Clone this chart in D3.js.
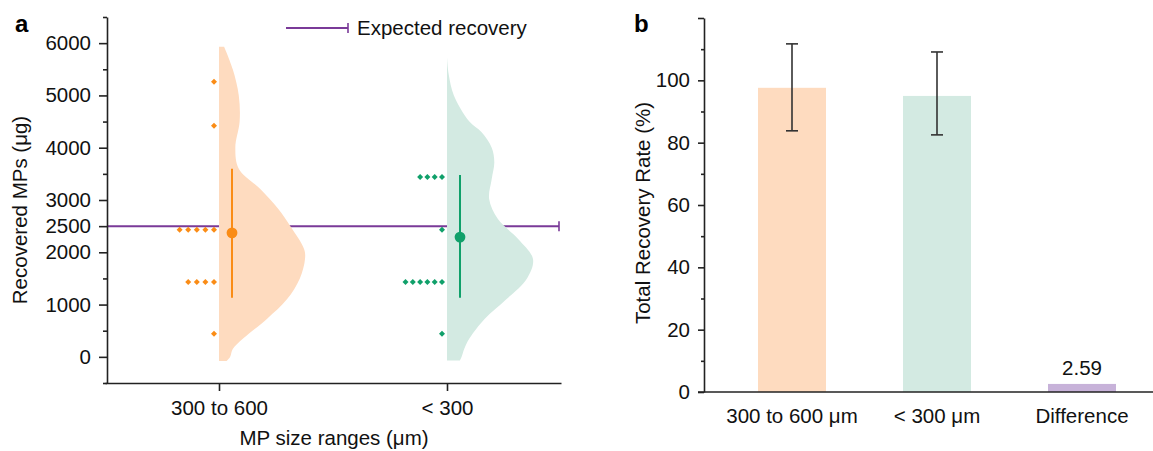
<!DOCTYPE html>
<html>
<head>
<meta charset="utf-8">
<script src="https://cdn.jsdelivr.net/npm/d3@7"></script>
<style>
  body { margin: 0; background: #fff; }
  svg { display: block; font-family: "Liberation Sans", Arial, sans-serif; }
  .axis path, .axis line { stroke: #222; stroke-width: 1.6; }
  .axis text { font-size: 20.5px; fill: #111; }
</style>
</head>
<body>
<div id="chart"></div>
<script>
// Panel a: recovered MPs per size range
const sizeRanges = ["300 to 600", "< 300"];
const orangePoints = [5260, 4420, 2430, 2430, 2430, 2430, 2430, 1430, 1430, 1430, 1430, 440];
const greenPoints = [3440, 3440, 3440, 3440, 2430, 1430, 1430, 1430, 1430, 1430, 1430, 440];
const groupMeans = [2370, 2290];
const groupLow = [1130, 1130];
const groupHigh = [3600, 3480];
const expectedRecovery = 2500;

// half-violin outlines (value, relative density)
const orangeViolinValues = [-80, 0, 150, 350, 730, 1100, 1500, 1870, 2060, 2500, 2830, 3210, 3600, 4000, 4500, 5000, 5500, 5930];
const orangeViolinDensity = [0.09, 0.13, 0.16, 0.28, 0.56, 0.79, 0.94, 1.0, 0.99, 0.83, 0.69, 0.48, 0.23, 0.19, 0.24, 0.23, 0.16, 0.06];
const greenViolinValues = [-70, 0, 150, 350, 730, 1100, 1500, 1870, 2250, 2640, 3020, 3400, 3720, 4000, 4300, 4500, 5000, 5400, 5730];
const greenViolinDensity = [0.15, 0.17, 0.2, 0.26, 0.44, 0.69, 0.93, 1.0, 0.83, 0.59, 0.49, 0.52, 0.55, 0.52, 0.4, 0.26, 0.08, 0.02, 0.0];

const yTicksA = [0, 1000, 2000, 2500, 3000, 4000, 5000, 6000];
const yMinorA = [-500, 500, 1500, 3500, 4500, 5500, 6500];

// Panel b: total recovery rate
const barCategories = ["300 to 600 μm", "< 300 μm", "Difference"];
const recoveryRates = [97.6, 95.0, 2.59];
const rateLow = [83.8, 82.5, null];
const rateHigh = [111.7, 109.1, null];
const yTicksB = [0, 20, 40, 60, 80, 100, 120];
const yMinorB = [10, 30, 50, 70, 90, 110];

const ORANGE_FILL = "#FEDBBF";
const ORANGE = "#FA8C16";
const GREEN_FILL = "#D3EAE2";
const GREEN = "#10A06A";
const PURPLE = "#7A3A98";
const DIFF_FILL = "#C7B2D9";
const FS = "20.5px";

const width = 1153, height = 451;
const svg = d3.select("#chart").append("svg")
    .attr("width", width)
    .attr("height", height);

// ---------- panel a ----------
const ya = d3.scaleLinear().domain([-500, 6500]).range([383, 17]);
const xa = d3.scalePoint().domain(sizeRanges).range([105, 561]).padding(0.5);
const wa = d3.scaleLinear().domain([0, 1]).range([0, 86]);

const ga = svg.append("g");

// expected recovery line (behind violins)
const lineEnd = 559;
ga.append("line")
    .attr("x1", 107).attr("x2", lineEnd)
    .attr("y1", ya(expectedRecovery)).attr("y2", ya(expectedRecovery))
    .attr("stroke", PURPLE).attr("stroke-width", 2);
ga.append("line")
    .attr("x1", lineEnd).attr("x2", lineEnd)
    .attr("y1", ya(expectedRecovery) - 5).attr("y2", ya(expectedRecovery) + 5)
    .attr("stroke", PURPLE).attr("stroke-width", 1.6);

const groups = [
    { cat: sizeRanges[0], pts: orangePoints, vv: orangeViolinValues, vd: orangeViolinDensity,
      mean: groupMeans[0], lo: groupLow[0], hi: groupHigh[0], fill: ORANGE_FILL, color: ORANGE, step: 8.6 },
    { cat: sizeRanges[1], pts: greenPoints, vv: greenViolinValues, vd: greenViolinDensity,
      mean: groupMeans[1], lo: groupLow[1], hi: groupHigh[1], fill: GREEN_FILL, color: GREEN, step: 7.3 }
];

groups.forEach(grp => {
    const cx = xa(grp.cat);
    const prof = grp.vv.map((v, i) => ({ v: v, d: grp.vd[i] }));
    const area = d3.area()
        .y(d => ya(d.v))
        .x0(cx)
        .x1(d => cx + wa(d.d))
        .curve(d3.curveCatmullRom);
    ga.append("path")
        .datum(prof)
        .attr("d", area)
        .attr("fill", grp.fill);

    // dots stacked to the left of the violin
    const counts = {};
    const dots = grp.pts.map(v => {
        const k = counts[v] || 0;
        counts[v] = k + 1;
        return { v: v, k: k };
    });
    ga.selectAll(null)
        .data(dots)
        .enter()
        .append("path")
        .attr("d", d3.symbol().type(d3.symbolSquare).size(18))
        .attr("transform", d => `translate(${cx - 5 - d.k * grp.step},${ya(d.v)}) rotate(45)`)
        .attr("fill", grp.color);

    // mean and range
    ga.append("line")
        .attr("x1", cx + 13).attr("x2", cx + 13)
        .attr("y1", ya(grp.lo)).attr("y2", ya(grp.hi))
        .attr("stroke", grp.color).attr("stroke-width", 2);
    ga.append("circle")
        .attr("cx", cx + 13).attr("cy", ya(grp.mean))
        .attr("r", 5.4)
        .attr("fill", grp.color);
});

// axes
ga.append("g")
    .attr("class", "axis")
    .attr("transform", "translate(107,0)")
    .call(d3.axisLeft(ya).tickValues(yTicksA).tickSize(8).tickPadding(8)
        .tickSizeOuter(0).tickFormat(d3.format("d")));
ga.append("g")
    .attr("class", "axis")
    .attr("transform", "translate(107,0)")
    .call(d3.axisLeft(ya).tickValues(yMinorA).tickSize(4).tickFormat("").tickSizeOuter(0))
    .select(".domain").remove();
ga.append("g")
    .attr("class", "axis")
    .attr("transform", "translate(0,383)")
    .call(d3.axisBottom(xa).tickSize(8).tickPadding(9).tickSizeOuter(0));

ga.append("text")
    .attr("transform", "translate(27,210) rotate(-90)")
    .attr("text-anchor", "middle")
    .style("font-size", FS)
    .attr("fill", "#111")
    .text("Recovered MPs (μg)");
ga.append("text")
    .attr("x", 334).attr("y", 445)
    .attr("text-anchor", "middle")
    .style("font-size", FS)
    .attr("fill", "#111")
    .text("MP size ranges (μm)");
ga.append("text")
    .attr("x", 15).attr("y", 32)
    .style("font-size", "24px").style("font-weight", "bold")
    .text("a");

// legend
ga.append("line")
    .attr("x1", 286).attr("x2", 348).attr("y1", 28).attr("y2", 28)
    .attr("stroke", PURPLE).attr("stroke-width", 2);
ga.append("line")
    .attr("x1", 348).attr("x2", 348).attr("y1", 23).attr("y2", 33)
    .attr("stroke", PURPLE).attr("stroke-width", 1.6);
ga.append("text")
    .attr("x", 357).attr("y", 35)
    .style("font-size", FS)
    .attr("fill", "#111")
    .text("Expected recovery");

// ---------- panel b ----------
const yb = d3.scaleLinear().domain([0, 120]).range([392, 18]);
const xb = d3.scalePoint().domain(barCategories).range([792, 1082]);
const barW = 68;

const gb = svg.append("g");
const barColors = [ORANGE_FILL, GREEN_FILL, DIFF_FILL];

gb.selectAll(".bar")
    .data(recoveryRates)
    .enter()
    .append("rect")
    .attr("class", "bar")
    .attr("x", (d, i) => xb(barCategories[i]) - barW / 2)
    .attr("width", barW)
    .attr("y", d => yb(d))
    .attr("height", d => yb(0) - yb(d))
    .attr("fill", (d, i) => barColors[i]);

recoveryRates.forEach((d, i) => {
    if (rateLow[i] == null) return;
    const cx = xb(barCategories[i]);
    const eb = gb.append("g").attr("stroke", "#333").attr("stroke-width", 1.6);
    eb.append("line").attr("x1", cx).attr("x2", cx).attr("y1", yb(rateLow[i])).attr("y2", yb(rateHigh[i]));
    eb.append("line").attr("x1", cx - 6).attr("x2", cx + 6).attr("y1", yb(rateLow[i])).attr("y2", yb(rateLow[i]));
    eb.append("line").attr("x1", cx - 6).attr("x2", cx + 6).attr("y1", yb(rateHigh[i])).attr("y2", yb(rateHigh[i]));
});

gb.append("text")
    .attr("x", xb(barCategories[2])).attr("y", yb(recoveryRates[2]) - 9)
    .attr("text-anchor", "middle")
    .style("font-size", FS)
    .attr("fill", "#111")
    .text(recoveryRates[2].toFixed(2));

gb.append("g")
    .attr("class", "axis")
    .attr("transform", "translate(704,0)")
    .call(d3.axisLeft(yb).tickValues(yTicksB).tickSize(6).tickPadding(8).tickSizeOuter(0)
        .tickFormat(d => d === 120 ? "" : d));
gb.append("g")
    .attr("class", "axis")
    .attr("transform", "translate(704,0)")
    .call(d3.axisLeft(yb).tickValues(yMinorB).tickSize(3).tickFormat("").tickSizeOuter(0))
    .select(".domain").remove();

// x axis: plain line with labels
gb.append("line")
    .attr("x1", 698).attr("x2", width)
    .attr("y1", yb(0)).attr("y2", yb(0))
    .attr("stroke", "#222").attr("stroke-width", 1.6);
gb.selectAll(".xlab")
    .data(barCategories)
    .enter()
    .append("text")
    .attr("class", "xlab")
    .attr("x", d => xb(d))
    .attr("y", 423)
    .attr("text-anchor", "middle")
    .style("font-size", FS)
    .attr("fill", "#111")
    .text(d => d);

gb.append("text")
    .attr("transform", "translate(650,213) rotate(-90)")
    .attr("text-anchor", "middle")
    .style("font-size", FS)
    .attr("fill", "#111")
    .text("Total Recovery Rate (%)");
gb.append("text")
    .attr("x", 634).attr("y", 32)
    .style("font-size", "24px").style("font-weight", "bold")
    .text("b");
</script>
</body>
</html>
